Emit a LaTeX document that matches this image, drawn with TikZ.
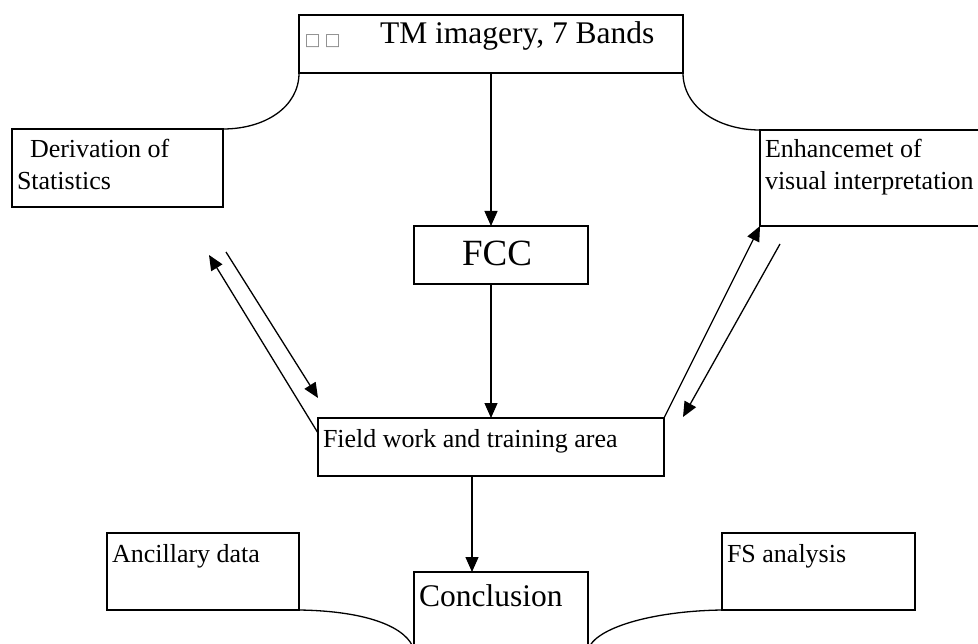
\documentclass[tikz,border=0pt]{standalone}
\usepackage{fontspec}
\setmainfont{Liberation Serif}
\newfontfamily\symfont{DejaVu Sans}
\usetikzlibrary{arrows.meta,calc}
\begin{document}
\begin{tikzpicture}[x=1bp,y=-1bp,
  line width=1.3bp,
  box/.style={draw,line width=1.3bp,anchor=north west,inner sep=0pt,outer sep=0pt},
  lbl/.style={anchor=base west,inner sep=0pt,outer sep=0pt,font=\fontsize{26bp}{32bp}\selectfont},
  big/.style={anchor=base west,inner sep=0pt,outer sep=0pt,font=\fontsize{31.5bp}{36bp}\selectfont},
  arr/.style={-{Triangle[length=15bp,width=13bp]},line width=1.3bp},
  conn/.style={line width=1.3bp}]
\useasboundingbox (0,0) rectangle (978,644);
\clip (0,0) rectangle (978,644);
\fill[white] (0,0) rectangle (978,644);
% boxes
\node[box,minimum width=384bp,minimum height=58bp] (top) at (299,15) {};
\node[box,minimum width=211bp,minimum height=78bp] (deriv) at (12,129) {};
\node[box,minimum width=240bp,minimum height=96bp] (enh) at (760,130) {};
\node[box,minimum width=174bp,minimum height=58bp] (fcc) at (414,226) {};
\node[box,minimum width=346bp,minimum height=58bp] (field) at (318,418) {};
\node[box,minimum width=192bp,minimum height=77bp] (anc) at (107,533) {};
\node[box,minimum width=193bp,minimum height=77bp] (fs) at (722,533) {};
\node[box,minimum width=174bp,minimum height=100bp] (concl) at (414,572) {};
% texts
\node[anchor=base west,inner sep=0pt,text=black!45,font=\symfont\fontsize{17bp}{17bp}\selectfont] (sq) at (304,46) {□\hspace{4bp}□};
\node[big] (toptxt) at (380,44) {TM imagery, 7 Bands};
\node[lbl] (dtxt1) at (30,158) {Derivation of};
\node[lbl] (dtxt2) at (17,190) {Statistics};
\node[lbl] (etxt1) at (765,158) {Enhancemet of};
\node[lbl] (etxt2) at (765,190) {visual interpretation};
\node[anchor=base,inner sep=0pt,font=\fontsize{37bp}{40bp}\selectfont] (fcctxt) at (497,266) {FCC};
\node[lbl] (ftxt) at (323,447) {Field work and training area};
\node[lbl] (atxt) at (112,562) {Ancillary data};
\node[lbl] (fstxt) at (727,562) {FS analysis};
\node[big] (ctxt) at (419,606) {Conclusion};
% curved connectors
\draw[conn] (top.south west) .. controls ($(top.south west)+(0,34)$) and ($(deriv.north east)+(42,0)$) .. (deriv.north east);
\draw[conn] (top.south east) .. controls ($(top.south east)+(0,34)$) and ($(enh.north west)+(-42,0)$) .. (enh.north west);
\coordinate (cl) at ($(concl.north west)+(0,78)$);
\coordinate (cr) at ($(concl.north east)+(0,78)$);
\draw[conn] (anc.south east) .. controls ($(anc.south east)+(70,1)$) and ($(cl)+(-6,-22)$) .. (cl);
\draw[conn] (fs.south west) .. controls ($(fs.south west)+(-70,1)$) and ($(cr)+(6,-22)$) .. (cr);
% straight arrows
\draw[arr] (top.south) -- (top.south |- fcc.north);
\draw[arr] (fcc.south -| field.north) -- (field.north);
\coordinate (fc) at (472,476);
\draw[arr] (fc) -- (fc |- concl.north);
% diagonal arrows left
\coordinate (l1s) at ($(field.north west)+(0,15)$);
\coordinate (l1e) at (209,255);
\draw[arr] (l1s) -- (l1e);
\coordinate (l2s) at (226,252);
\coordinate (l2e) at (318,398);
\draw[arr] (l2s) -- (l2e);
% diagonal arrows right
\draw[arr] (field.north east) -- (enh.south west);
\coordinate (r2s) at (780,244);
\coordinate (r2e) at (683,417);
\draw[arr] (r2s) -- (r2e);
\end{tikzpicture}
\end{document}
